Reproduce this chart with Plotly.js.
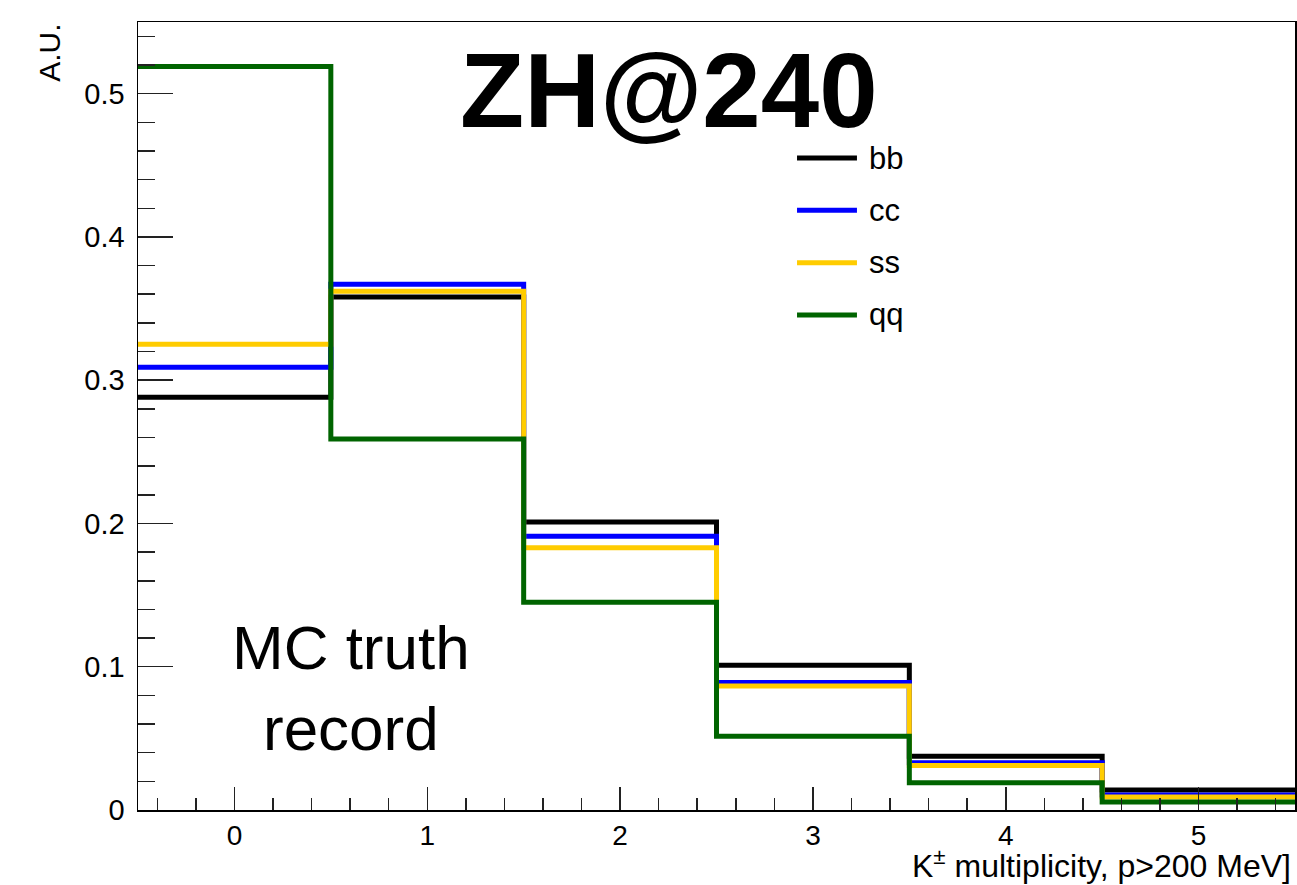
<!DOCTYPE html>
<html>
<head>
<meta charset="utf-8">
<script src="https://cdn.plot.ly/plotly-3.0.1.min.js"></script>
<style>html,body{margin:0;padding:0;background:#fff;}#chart{width:1297px;height:885px;}</style>
</head>
<body>
<div id="chart"></div>
<script>
// K± multiplicity bins
const binCenters = [0, 1, 2, 3, 4, 5];
const seriesNames = ["bb", "cc", "ss", "qq"];
const bbValues = [0.288, 0.358, 0.201, 0.101, 0.0375, 0.0140];
const ccValues = [0.309, 0.367, 0.191, 0.089, 0.0330, 0.0105];
const ssValues = [0.325, 0.362, 0.183, 0.0865, 0.0310, 0.0090];
const qqValues = [0.519, 0.259, 0.145, 0.0515, 0.0190, 0.0055];
const seriesColors = ["#000000", "#0000ff", "#ffcc00", "#006400"];
const yTickVals = [0, 0.1, 0.2, 0.3, 0.4, 0.5];
const yTickText = ["0", "0.1", "0.2", "0.3", "0.4", "0.5"];
const xTickVals = [0, 1, 2, 3, 4, 5];
const xTickText = ["0", "1", "2", "3", "4", "5"];

const FONT = "'Liberation Sans', Arial, Helvetica, sans-serif";
const allValues = [bbValues, ccValues, ssValues, qqValues];

// bin edges from bin centers (unit width)
const edges = binCenters.map(c => c - 0.5).concat([binCenters[binCenters.length - 1] + 0.5]);

const traces = allValues.map((vals, i) => ({
  type: "scatter",
  mode: "lines",
  x: edges,
  y: vals.concat([vals[vals.length - 1]]),
  line: {shape: "hv", color: seriesColors[i], width: 5},
  name: seriesNames[i],
  showlegend: false,
  hoverinfo: "skip"
}));

// manual ROOT-style legend
const legX0 = 0.5696, legX1 = 0.6214, legTextX = 0.630, legTop = 0.8274, legStep = 0.0664;
const shapes = [];
const annotations = [];
seriesNames.forEach((n, i) => {
  const yy = legTop - i * legStep;
  shapes.push({type: "line", xref: "paper", yref: "paper", x0: legX0, x1: legX1, y0: yy, y1: yy,
    line: {color: seriesColors[i], width: 5}});
  annotations.push({xref: "paper", yref: "paper", x: legTextX, y: yy, text: n, showarrow: false,
    xanchor: "left", yanchor: "middle", font: {family: FONT, size: 31, color: "#000"}});
});

annotations.push({xref: "paper", yref: "paper", x: 0.4586, y: 0.9126, text: "<b>ZH@240</b>",
  showarrow: false, xanchor: "center", yanchor: "middle", font: {family: FONT, size: 105, color: "#000"}});
annotations.push({xref: "paper", yref: "paper", x: 0.184, y: 0.155, text: "MC truth<br>record",
  showarrow: false, xanchor: "center", yanchor: "middle", align: "center",
  font: {family: FONT, size: 62, color: "#000"}});
annotations.push({xref: "paper", yref: "paper", x: -0.076, y: 0.961, text: "A.U.", textangle: -90,
  showarrow: false, xanchor: "center", yanchor: "middle", font: {family: FONT, size: 30, color: "#000"}});
annotations.push({xref: "paper", yref: "paper", x: 0.9983, y: -0.068,
  text: "K<sup>±</sup> multiplicity, p>200 MeV]",
  showarrow: false, xanchor: "right", yanchor: "middle", font: {family: FONT, size: 32, color: "#000"}});

const layout = {
  width: 1297, height: 885,
  margin: {l: 138, r: 2, t: 22, b: 75},
  paper_bgcolor: "#ffffff", plot_bgcolor: "#ffffff",
  showlegend: false,
  font: {family: FONT, size: 29, color: "#000"},
  xaxis: {
    range: [-0.5, 5.5], showgrid: false, zeroline: false,
    showline: true, mirror: true, linecolor: "#000", linewidth: 1.5,
    ticks: "inside", ticklen: 23, tickwidth: 1.5, tickcolor: "#222",
    tickvals: xTickVals, ticktext: xTickText,
    ticklabelstandoff: 0,
    minor: {dtick: 0.2, tick0: 0, ticks: "inside", ticklen: 12, tickwidth: 1.5, tickcolor: "#222"},
    tickfont: {family: FONT, size: 28, color: "#000"}
  },
  yaxis: {
    range: [0, 0.55], showgrid: false, zeroline: false,
    showline: true, mirror: true, linecolor: "#000", linewidth: 1.5,
    ticks: "inside", ticklen: 35, tickwidth: 1.5, tickcolor: "#222",
    tickvals: yTickVals, ticktext: yTickText,
    ticklabelstandoff: 6,
    minor: {dtick: 0.02, tick0: 0, ticks: "inside", ticklen: 17, tickwidth: 1.5, tickcolor: "#222"},
    tickfont: {family: FONT, size: 29, color: "#000"}
  },
  shapes: shapes,
  annotations: annotations
};

Plotly.newPlot("chart", traces, layout, {displayModeBar: false, staticPlot: true});
</script>
</body>
</html>
